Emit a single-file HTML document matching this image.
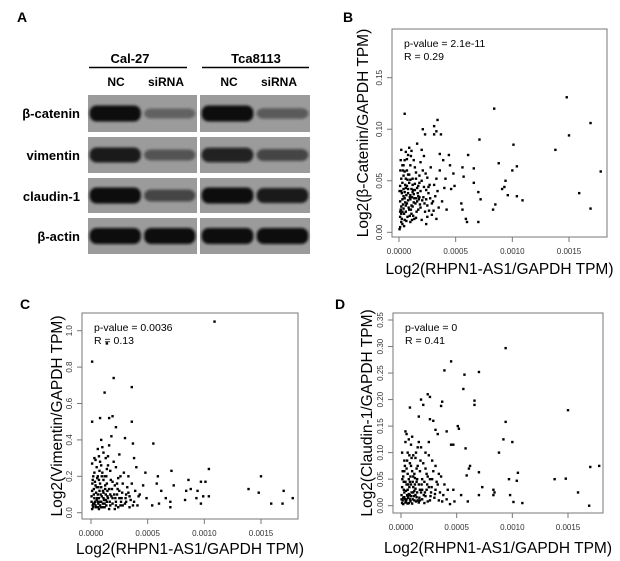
<!DOCTYPE html>
<html><head><meta charset="utf-8"><style>
html,body{margin:0;padding:0;background:#fff;}
svg{display:block;font-family:"Liberation Sans",Arial,sans-serif;}
</style></head><body>
<svg id="fig" width="620" height="561" viewBox="0 0 620 561">
<defs><filter id="bl" x="-20%" y="-50%" width="140%" height="200%"><feGaussianBlur stdDeviation="1.4"/></filter></defs>
<g>
<text x="17" y="22" font-size="14" font-weight="bold">A</text>
<text x="130" y="63" font-size="13" font-weight="bold" text-anchor="middle">Cal-27</text>
<line x1="89" y1="67.5" x2="187" y2="67.5" stroke="#000" stroke-width="1.5"/>
<text x="256" y="63" font-size="13" font-weight="bold" text-anchor="middle">Tca8113</text>
<line x1="202" y1="67.5" x2="309" y2="67.5" stroke="#000" stroke-width="1.5"/>
<g font-size="12" font-weight="bold" text-anchor="middle">
<text x="116" y="86">NC</text>
<text x="166" y="86">siRNA</text>
<text x="229" y="86">NC</text>
<text x="279" y="86">siRNA</text>
</g>
<g font-size="13" font-weight="bold" text-anchor="end">
<text x="80" y="118">β-catenin</text>
<text x="80" y="160">vimentin</text>
<text x="80" y="201">claudin-1</text>
<text x="80" y="241">β-actin</text>
</g>
<g id="blots"></g>
</g>
<g id="charts"></g>
</svg>
<script>
// ---- blot band intensities (opacity per lane) ----
const blotRows=[[95,132],[137,173],[178,213],[218,254]];
const bandStrength=[[1,0.4,1,0.45],[0.9,0.5,0.85,0.6],[1,0.6,1,0.9],[1,1,1,1]];
const NS='http://www.w3.org/2000/svg';
function mk(t,a,p){const e=document.createElementNS(NS,t);for(const k in a)e.setAttribute(k,a[k]);p.appendChild(e);return e;}
const blots=document.getElementById('blots');
const panelsX=[[88,197],[200,310]];
blotRows.forEach((r,ri)=>{panelsX.forEach((px,pi)=>{
 const bg=mk('rect',{x:px[0],y:r[0],width:px[1]-px[0],height:r[1]-r[0],fill:'#9b9b9b'},blots);
 
 
 for(let l=0;l<2;l++){
  const s=bandStrength[ri][pi*2+l];
  const w=(px[1]-px[0])/2;
  const cx=px[0]+w*l+w/2;
  const cy=(r[0]+r[1])/2;
  const b=mk('rect',{x:cx-w*0.47,y:cy-(3+5*s),width:w*0.94,height:2*(3+5*s),rx:7,fill:'#0d0d0d',opacity:s,filter:'url(#bl)'},blots);
  
  
 }
});});

// ---- scatter data (x in units of 1e-4) ----
const ptsB=[[0.5,11.5],[8.4,12],[14.8,13.1],[16.9,10.6],[15,9.4],[13.8,8],[17.8,5.9],[15.9,3.8],[16.9,2.3],[10.1,8.5],[7.1,9],[8.8,6.7],[10,6],[10.4,6.4],[9.4,5],[9.3,4.4],[9.1,4.2],[9.6,3.6],[10.4,3.5],[10.9,3.1],[8.3,2.2],[8.5,2.7],[7,1],[6,1],[5.9,1.3],[7,3.9],[7.2,3.2],[6.6,4.8],[6.6,6.2],[6.1,7.5],[5.6,6.3],[5.7,5.4],[5.5,2.8],[5.6,2.2],[3.4,10.9],[3.1,10.3],[2.1,10],[2.3,9.5],[3.1,9.5],[3.7,9.5],[3.3,9.8],[2.5,1.5],[2.9,2.8],[4.4,7.5],[4.5,6.5],[3.6,7.6],[3.9,7],[4.8,5.7],[4.9,4.5],[4.6,4.2],
[0.1,0.5],[0.2,1],[0.1,1.5],[0.3,2],[0.2,2.5],[0.1,3],[0.4,3.5],[0.2,4],[0.1,4.5],[0.3,0.8],[0.5,1.2],[0.6,2],[0.7,2.8],[0.5,3.3],[0.8,3.8],[0.6,4.3],[0.9,4.8],[0.4,5.5],[0.7,6],[0.3,6.5],[0.5,7],[0.8,7.5],[0.2,8],[0.9,8.2],[1,1],[1.1,1.8],[1.2,2.5],[1,3.2],[1.3,3.7],[1.1,4.2],[1.4,4.7],[1.2,5.2],[1.5,5.8],[1,6.5],[1.3,7],[1.6,8.6],[1.5,1.4],[1.7,2.2],[1.6,3],[1.8,3.4],[1.9,4],[1.7,4.5],[2,5],[1.8,5.5],[2.1,6],[1.9,6.8],[2.2,7.4],[2,8],[2.3,2],[2.5,2.6],[2.4,3.2],[2.6,3.8],[2.2,4.4],[2.7,4.6],[2.5,5.3],[2.8,6.3],[2.4,0.8],[2,1.2],[2.9,1.7],[3,3],[3.2,3.5],[3.4,4],[3.1,4.6],[3.5,2.4],[3.3,5.2],[3.6,6],[3.8,3],[4,4.3],[4.2,2.2],[4.1,5.2],[0.15,2.2],[0.35,2.7],[0.45,1.8],[0.25,3.8],[0.55,4.6],[0.65,3.6],[0.85,2.4],[0.95,1.6],[1.05,2.2],[1.15,3.4],[1.25,4.1],[0.75,5.1],[1.35,1.3],[1.45,2.8],[0.05,0.3],[0.12,6],[0.6,7.8],[1.1,7.9],[1.4,6.3],[0.9,5.6],[1.65,3.8],[2.15,3.4],[2.35,5.7],[2.65,2.1],[2.75,3.3],[3.05,2.1],[3.3,1.3],[0.3,4.8],[0.5,5.9],[0.8,4.2],
[0.2,1.8],[0.4,2.3],[0.6,2.6],[0.8,3.1],[1,3.6],[1.2,3.9],[0.3,3.2],[0.5,3.9],[0.7,4.5],[0.9,2.2],[1.1,2.6],[1.3,2.9],[1.5,3.3],[1.7,3.5],[0.4,4.2],[0.6,5.2],[0.8,5.6],[1,5.1],[1.2,4.6],[1.4,4.1],[1.6,4.3],[1.8,4.8],[0.2,5.2],[0.35,6],[0.15,7],[0.7,7.1],[1.05,7.4],[0.45,0.6],[0.75,1.5],[1.25,1.6],[1.55,2],[1.85,2.7],[2.05,3.1],[2.25,2.8],[0.1,2],[0.25,1.3],[0.55,2.9],[0.95,3.4],[1.35,3.3],[1.75,3.2],[0.65,1.1],[1.15,1.2],[0.05,4],[0.4,6.5],[1.5,5.2],[2.4,4.1],[2.6,4.4],[1.9,2.4]].map(p=>[p[0],p[1]/100]);
const ptsC=[[10.9,1.05],[0.1,0.83],[1.4,0.93],[2,0.74],[1.2,0.66],[3.6,0.69],[3.6,0.5],[0.1,0.5],[1.6,0.52],[1.9,0.53],[0.8,0.52],[5.5,0.38],[3.7,0.38],[2.2,0.47],[3,0.41],[10.4,0.24],[7.1,0.23],[15,0.2],[13.9,0.13],[14.8,0.11],[17,0.12],[17.8,0.08],[16.9,0.05],[15.9,0.05],[9.7,0.17],[10.1,0.17],[8.6,0.18],[8.8,0.13],[8.4,0.12],[9.4,0.12],[9.9,0.09],[10.4,0.09],[9.7,0.05],[9.3,0.08],[8.3,0.07],[7.3,0.15],[7,0.06],[7,0.03],[6.6,0.08],[6.2,0.12],[5.9,0.2],[5.8,0.16],[5.4,0.04],[4.8,0.22],[4.6,0.15],[4.3,0.1],[4.9,0.08],[6,0.05],[3.8,0.3],[4,0.25],[3.3,0.2],
[0.1,0.02],[0.2,0.05],[0.3,0.08],[0.1,0.12],[0.4,0.15],[0.2,0.2],[0.5,0.25],[0.3,0.3],[0.6,0.35],[0.7,0.02],[0.8,0.06],[0.6,0.1],[0.9,0.14],[0.7,0.18],[1,0.22],[0.8,0.28],[1.1,0.33],[0.9,0.4],[1.2,0.03],[1.3,0.07],[1.1,0.11],[1.4,0.16],[1.2,0.2],[1.5,0.26],[1.3,0.3],[1.6,0.37],[1.7,0.04],[1.8,0.09],[1.6,0.13],[1.9,0.17],[1.7,0.23],[2,0.28],[1.8,0.42],[2.1,0.02],[2.2,0.06],[2.3,0.1],[2.1,0.15],[2.4,0.19],[2.2,0.25],[2.5,0.32],[2.6,0.04],[2.7,0.08],[2.5,0.12],[2.8,0.16],[2.9,0.22],[3,0.05],[3.1,0.1],[3.2,0.14],[3.4,0.03],[3.5,0.07],[3.3,0.11],[3.6,0.16],[3.8,0.06],[3.9,0.12],[4.1,0.04],[4.2,0.09],[0.15,0.04],[0.35,0.06],[0.45,0.03],[0.25,0.1],[0.55,0.08],[0.65,0.05],[0.85,0.03],[0.95,0.09],[1.05,0.05],[1.15,0.07],[1.25,0.13],[0.75,0.12],[1.35,0.04],[1.45,0.09],[0.05,0.06],[0.12,0.16],[0.6,0.2],[1.1,0.18],[1.4,0.24],[0.9,0.26],[1.65,0.06],[2.15,0.08],[2.35,0.13],[2.65,0.06],[2.75,0.11],[3.05,0.08],[0.3,0.22],[0.5,0.14],[0.8,0.16],[1.9,0.05],[2.4,0.03],
[0.2,0.03],[0.4,0.04],[0.6,0.03],[0.8,0.04],[1,0.03],[1.2,0.05],[1.4,0.06],[1.6,0.02],[0.3,0.05],[0.5,0.07],[0.7,0.08],[0.9,0.06],[1.1,0.08],[1.3,0.1],[1.5,0.08],[1.7,0.1],[0.25,0.13],[0.45,0.11],[0.65,0.14],[0.85,0.1],[1.05,0.12],[1.25,0.15],[1.45,0.12],[1.85,0.13],[2.05,0.1],[0.15,0.18],[0.35,0.17],[0.55,0.19],[0.75,0.23],[0.95,0.2],[1.35,0.2],[1.75,0.18],[0.1,0.27],[0.4,0.29],[0.7,0.31],[1,0.36],[1.5,0.31],[2.2,0.04],[2.5,0.08],[2.8,0.04],[3.1,0.06],[0.05,0.09],[0.6,0.06],[1.9,0.08],[2.3,0.16],[2.6,0.2],[3.4,0.09],[3.7,0.04]];
const ptsD=[[9.4,0.297],[4.5,0.272],[7,0.252],[5.7,0.247],[3.9,0.255],[5.6,0.22],[6.6,0.198],[6.6,0.19],[15,0.18],[9.4,0.158],[9.2,0.125],[10,0.12],[8.8,0.1],[5.1,0.15],[5.2,0.145],[4.5,0.115],[4.7,0.115],[5.8,0.108],[4.1,0.14],[13.8,0.05],[14.8,0.051],[17,0.073],[17.8,0.075],[15.9,0.025],[16.9,0],[10.5,0.062],[10.4,0.047],[9.7,0.05],[9.8,0.02],[10.1,0.007],[10.9,0.005],[8.3,0.02],[8.3,0.03],[8.4,0.025],[7.3,0.035],[7,0.063],[7,0.02],[6.2,0.075],[6.1,0.07],[5.9,0.057],[6,0.008],[5.4,0.02],[4.7,0.03],[4.4,0.003],[4.8,0.008],[2.4,0.21],[2.6,0.205],[1.8,0.2],[2,0.19],[0.8,0.185],[3.7,0.196],[3.6,0.188],[1.6,0.168],[2.6,0.163],[2.9,0.16],[3.3,0.135],[3.1,0.143],[0.4,0.14],[0.5,0.135],
[0.1,0.005],[0.2,0.015],[0.3,0.025],[0.1,0.035],[0.4,0.045],[0.2,0.055],[0.5,0.07],[0.3,0.085],[0.6,0.1],[0.7,0.005],[0.8,0.02],[0.6,0.03],[0.9,0.04],[0.7,0.05],[1,0.065],[0.8,0.08],[1.1,0.095],[0.9,0.115],[1.2,0.01],[1.3,0.02],[1.1,0.035],[1.4,0.045],[1.2,0.06],[1.5,0.075],[1.3,0.09],[1.6,0.12],[1.7,0.01],[1.8,0.025],[1.6,0.04],[1.9,0.05],[1.7,0.065],[2,0.08],[1.8,0.11],[2.1,0.005],[2.2,0.018],[2.3,0.03],[2.1,0.045],[2.4,0.055],[2.2,0.07],[2.5,0.095],[2.6,0.01],[2.7,0.025],[2.5,0.035],[2.8,0.05],[2.9,0.065],[3,0.015],[3.1,0.03],[3.2,0.045],[3.4,0.01],[3.5,0.025],[3.3,0.04],[3.6,0.055],[3.8,0.02],[3.9,0.04],[4.1,0.012],[4.2,0.03],[0.15,0.01],[0.35,0.012],[0.45,0.008],[0.25,0.03],[0.55,0.02],[0.65,0.015],[0.85,0.008],[0.95,0.025],[1.05,0.012],[1.15,0.018],[1.25,0.04],[0.75,0.035],[1.35,0.008],[1.45,0.025],[0.05,0.02],[0.12,0.05],[0.6,0.06],[1.1,0.055],[1.4,0.07],[0.9,0.075],[1.65,0.015],[2.15,0.025],[2.35,0.04],[2.65,0.018],[2.75,0.035],[3.05,0.022],[0.3,0.065],[0.5,0.04],[0.8,0.045],[1.9,0.012],[2.4,0.008],
[0.2,0.003],[0.4,0.006],[0.6,0.004],[0.8,0.012],[1,0.004],[1.2,0.028],[1.4,0.016],[1.6,0.006],[0.3,0.016],[0.5,0.012],[0.7,0.022],[0.9,0.018],[1.1,0.025],[1.3,0.032],[1.5,0.01],[1.7,0.03],[0.25,0.045],[0.45,0.028],[0.65,0.04],[0.85,0.055],[1.05,0.045],[1.25,0.052],[1.45,0.05],[1.85,0.04],[2.05,0.02],[0.15,0.065],[0.35,0.075],[0.55,0.085],[0.75,0.095],[0.95,0.09],[1.35,0.1],[1.75,0.085],[0.1,0.1],[0.4,0.12],[0.7,0.125],[1,0.13],[1.5,0.11],[2.2,0.1],[2.5,0.12],[2.8,0.085],[3.1,0.075],[0.05,0.012],[0.6,0.018],[1.9,0.03],[2.3,0.06],[2.6,0.05],[3.4,0.06],[3.7,0.008]];
const xTicks=[0,5,10,15];
const xTickLabels=['0.0000','0.0005','0.0010','0.0015'];
const yTicksB=[0,0.05,0.10,0.15];
const yTickLabelsB=['0.00','0.05','0.10','0.15'];
const yTicksC=[0,0.2,0.4,0.6,0.8,1.0];
const yTickLabelsC=['0.0','0.2','0.4','0.6','0.8','1.0'];
const yTicksD=[0,0.05,0.10,0.15,0.20,0.25,0.30,0.35];
const yTickLabelsD=['0.00','0.05','0.10','0.15','0.20','0.25','0.30','0.35'];

const charts=document.getElementById('charts');
function scatter(c){
 const g=mk('g',{},charts);
 
 
 const xs=v=>c.x0+(v/15)*(c.x15-c.x0);
 const ys=v=>c.y0+(v/c.yMax)*(c.yTop-c.y0);
 const t=mk('text',{x:c.letterX,y:c.letterY,'font-size':14,'font-weight':'bold'},g);t.textContent=c.letter;
 
 
 const box=mk('rect',{x:c.L,y:c.T,width:c.R-c.L,height:c.B-c.T,fill:'none',stroke:'#777','stroke-width':1},g);
 
 
 xTicks.forEach((v,i)=>{const x=xs(v);mk('line',{x1:x,y1:c.B,x2:x,y2:c.B+5,stroke:'#777'},g);
  const l=mk('text',{x:x,y:c.B+17,'font-size':8,'text-anchor':'middle',fill:'#333'},g);l.textContent=xTickLabels[i];
  
  });
 c.yTicks.forEach((v,i)=>{const y=ys(v);mk('line',{x1:c.L,y1:y,x2:c.L-5,y2:y,stroke:'#777'},g);
  const l=mk('text',{x:c.L-10,y:y,'font-size':8,'text-anchor':'middle',fill:'#333',transform:`rotate(-90 ${c.L-10} ${y})`},g);l.textContent=c.yLabels[i];
  
  });
 c.pts.forEach(p=>{const d=mk('rect',{x:xs(p[0])-1.2,y:ys(p[1])-1.2,width:2.4,height:2.4,fill:'#000'},g);
  
  });
 const xt=mk('text',{x:(c.L+c.R)/2,y:c.xtY,'font-size':15.5,'text-anchor':'middle'},g);xt.textContent='Log2(RHPN1-AS1/GAPDH TPM)';
 
 
 const cy=(c.T+c.B)/2;
 const yt=mk('text',{x:c.ytX,y:cy,'font-size':15.5,'text-anchor':'middle',transform:`rotate(-90 ${c.ytX} ${cy})`},g);yt.textContent=c.yTitle;
 
 
 const s1=mk('text',{x:c.L+12,y:c.T+18,'font-size':10.5},g);s1.textContent=c.p;
 
 
 const s2=mk('text',{x:c.L+12,y:c.T+31,'font-size':10.5},g);s2.textContent=c.r;
 
 
}
scatter({name:'panel-b-scatter',letter:'B',letterX:343,letterY:22,L:392,R:607,T:29,B:237,x0:399,x15:569,y0:232.3,yTop:77.7,yMax:0.15,yTicks:yTicksB,yLabels:yTickLabelsB,pts:ptsB,xtY:274,ytX:368,yTitle:'Log2(β-Catenin/GAPDH TPM)',p:'p-value = 2.1e-11',r:'R = 0.29'});
scatter({name:'panel-c-scatter',letter:'C',letterX:20,letterY:309,L:82,R:298,T:313,B:519,x0:91,x15:261,y0:512.7,yTop:330.7,yMax:1.0,yTicks:yTicksC,yLabels:yTickLabelsC,pts:ptsC,xtY:554,ytX:62,yTitle:'Log2(Vimentin/GAPDH TPM)',p:'p-value = 0.0036',r:'R = 0.13'});
scatter({name:'panel-d-scatter',letter:'D',letterX:335,letterY:309,L:393,R:603,T:313,B:513,x0:401,x15:568,y0:505.7,yTop:320,yMax:0.35,yTicks:yTicksD,yLabels:yTickLabelsD,pts:ptsD,xtY:553,ytX:372,yTitle:'Log2(Claudin-1/GAPDH TPM)',p:'p-value = 0',r:'R = 0.41'});
</script>
</body></html>
